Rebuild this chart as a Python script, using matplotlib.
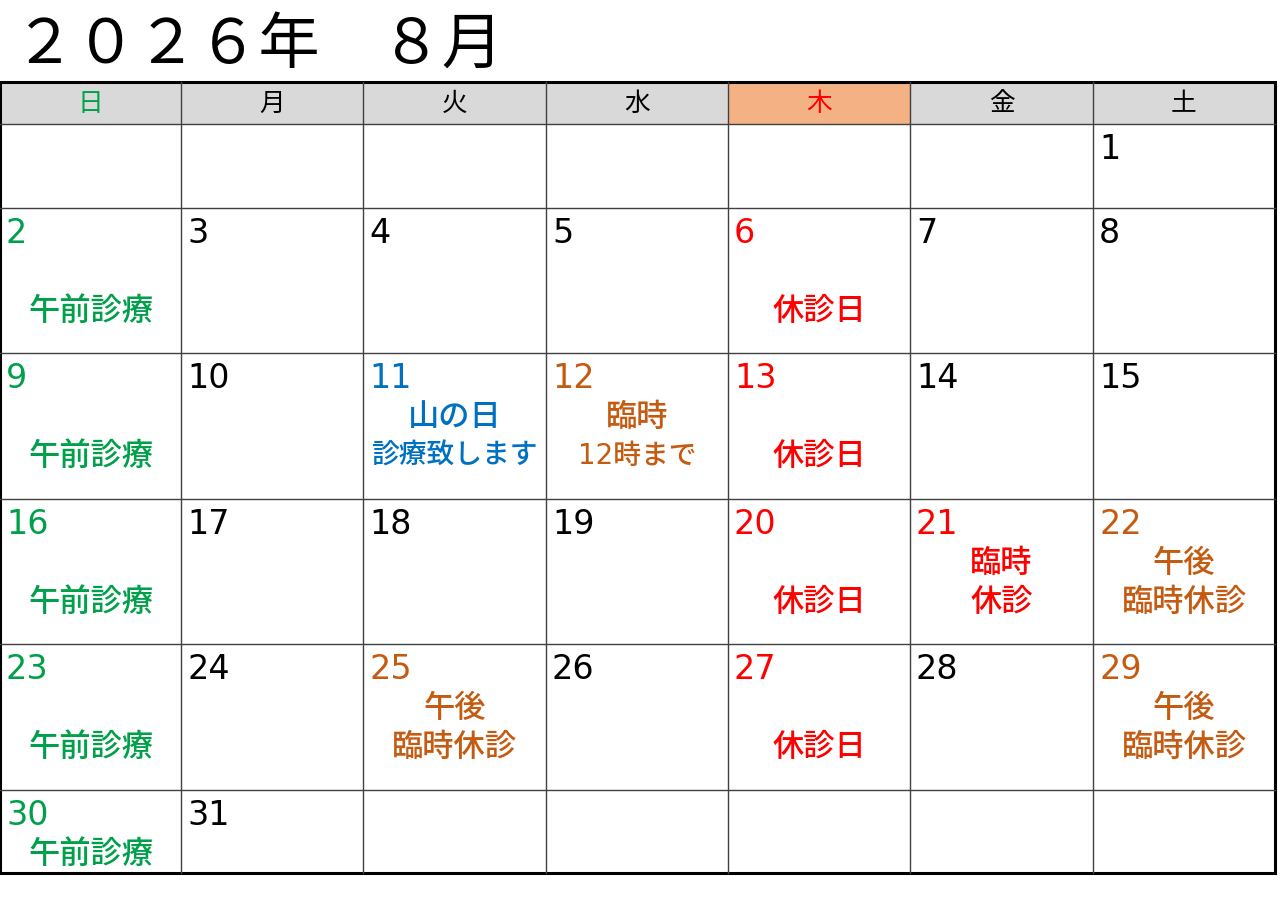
import calendar
import matplotlib.pyplot as plt
from matplotlib.patches import Rectangle

plt.rcParams['font.family'] = ['Noto Sans CJK JP', 'DejaVu Sans']

year = 2026
month = 8
title = '２０２６年　８月'
weekdays = ['日', '月', '火', '水', '木', '金', '土']

GREEN = '#00A04A'
RED = '#FF0000'
BLUE = '#0070C0'
ORANGE = '#C55A11'
BLACK = '#000000'

weekday_colors = [GREEN, BLACK, BLACK, BLACK, RED, BLACK, BLACK]
header_bg = ['#D9D9D9', '#D9D9D9', '#D9D9D9', '#D9D9D9', '#F4B183', '#D9D9D9', '#D9D9D9']

# colour of the day number where it differs from the weekday rule
special_days = {
    11: BLUE, 12: ORANGE, 21: RED, 22: ORANGE, 25: ORANGE, 29: ORANGE,
}
# day -> (note lines, note colour); '' keeps the first line empty
notes = {
    2: (['', '午前診療'], GREEN),
    9: (['', '午前診療'], GREEN),
    16: (['', '午前診療'], GREEN),
    23: (['', '午前診療'], GREEN),
    30: (['午前診療'], GREEN),
    6: (['', '休診日'], RED),
    13: (['', '休診日'], RED),
    20: (['', '休診日'], RED),
    27: (['', '休診日'], RED),
    11: (['山の日', '診療致します'], BLUE),
    12: (['臨時', '12時まで'], ORANGE),
    21: (['臨時', '休診'], RED),
    22: (['午後', '臨時休診'], ORANGE),
    25: (['午後', '臨時休診'], ORANGE),
    29: (['午後', '臨時休診'], ORANGE),
}

# layout (pixels)
col_edges = [0, 181, 363, 546, 728, 910, 1093, 1275]
header_top, header_bot = 82, 124
row_edges = [124, 208, 353, 499, 644, 790, 873]

fig = plt.figure(figsize=(12.8, 8.99), dpi=100)
ax = fig.add_axes([0, 0, 1, 1])
ax.set_xlim(0, 1280)
ax.set_ylim(899, 0)
ax.axis('off')

ax.text(14, 63, title, fontsize=44, color=BLACK, va='baseline', ha='left')

# header row
for i, wd in enumerate(weekdays):
    x0, x1 = col_edges[i], col_edges[i + 1]
    ax.add_patch(Rectangle((x0, header_top), x1 - x0, header_bot - header_top,
                           facecolor=header_bg[i], edgecolor='none'))
    ax.text((x0 + x1) / 2, (header_top + header_bot) / 2 + 1, wd, fontsize=18.5,
            color=weekday_colors[i], ha='center', va='center')

# grid lines
for x in col_edges[1:-1]:
    ax.plot([x, x], [header_top, row_edges[-1]], color='#404040', lw=1.0)
for y in [header_bot] + row_edges[1:-1]:
    ax.plot([col_edges[0], col_edges[-1]], [y, y], color='#404040', lw=1.0)
ax.add_patch(Rectangle((col_edges[0], header_top), col_edges[-1] - col_edges[0],
                       row_edges[-1] - header_top, facecolor='none',
                       edgecolor=BLACK, lw=2.2))

# day cells
cal = calendar.Calendar(firstweekday=6)
weeks = cal.monthdayscalendar(year, month)
for r, week in enumerate(weeks):
    top = row_edges[r]
    for c, day in enumerate(week):
        if day == 0:
            continue
        x0, x1 = col_edges[c], col_edges[c + 1]
        if day in special_days:
            num_color = special_days[day]
        elif c == 0:
            num_color = GREEN
        elif c == 4:
            num_color = RED
        else:
            num_color = BLACK
        ax.text(x0 + 6, top + 35, str(day), fontsize=24, color=num_color,
                family='DejaVu Sans', ha='left', va='baseline')
        if day in notes:
            lines, ncol = notes[day]
            for k, line in enumerate(lines):
                if not line:
                    continue
                size = 22.5 if len(line) <= 4 else 20
                ax.text((x0 + x1) / 2, top + 64 + 39 * k, line, fontsize=size,
                        color=ncol, ha='center', va='center', fontweight='medium',
                        family=['DejaVu Sans', 'Noto Sans CJK JP'])

fig.savefig('out.png', dpi=100)
